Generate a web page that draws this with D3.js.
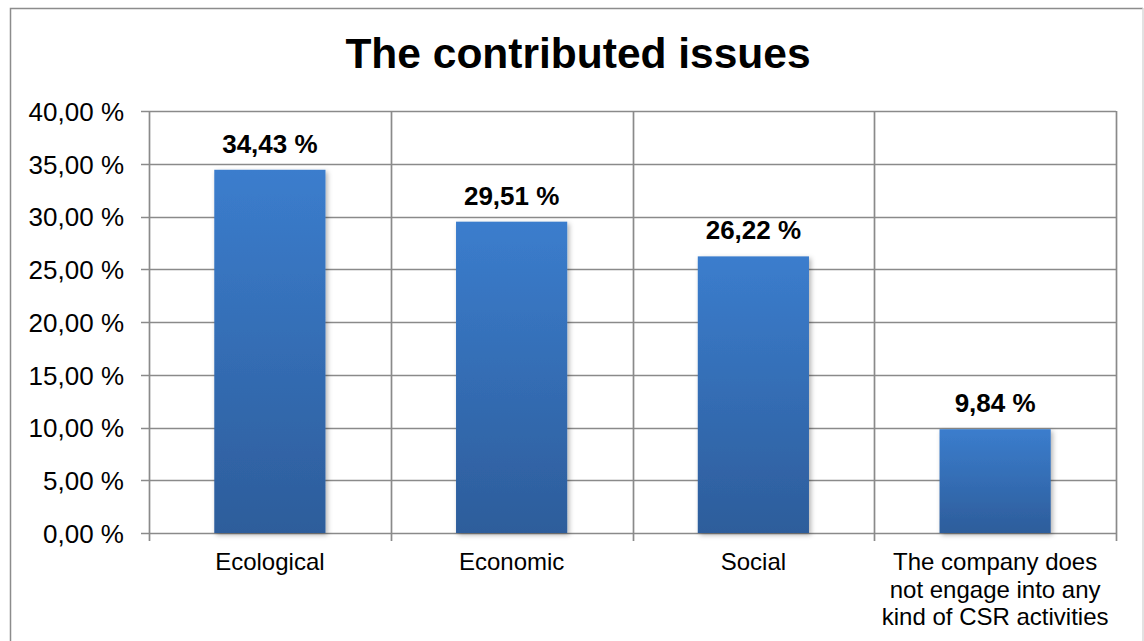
<!DOCTYPE html>
<html>
<head>
<meta charset="utf-8">
<script src="https://cdn.jsdelivr.net/npm/d3@7"></script>
<style>
  html, body { margin: 0; padding: 0; background: #fff; }
  svg { display: block; }
  text { font-family: "Liberation Sans", Arial, sans-serif; fill: #000; }
</style>
</head>
<body>
<svg id="chart" width="1144" height="641"></svg>
<script>
const title = "The contributed issues";
const categories = [
  "Ecological",
  "Economic",
  "Social",
  "The company does not engage into any kind of CSR activities"
];
const categoryLines = [
  ["Ecological"],
  ["Economic"],
  ["Social"],
  ["The company does", "not engage into any", "kind of CSR activities"]
];
const values = [34.43, 29.51, 26.22, 9.84];
const yTicks = [0, 5, 10, 15, 20, 25, 30, 35, 40];

const W = 1144, H = 641;
const margin = { left: 149, right: 28, top: 111, bottom: 108 };
const svg = d3.select("#chart");

const fmt = v => v.toFixed(2).replace(".", ",") + " %";

// defs: gradient + shadow
const defs = svg.append("defs");
const grad = defs.append("linearGradient").attr("id", "barGrad")
  .attr("x1", 0).attr("y1", 0).attr("x2", 0).attr("y2", 1);
grad.append("stop").attr("offset", "0%").attr("stop-color", "#3b7dcd");
grad.append("stop").attr("offset", "100%").attr("stop-color", "#2d5d9b");
const filt = defs.append("filter").attr("id", "shadow")
  .attr("x", "-10%").attr("y", "-10%").attr("width", "130%").attr("height", "130%");
filt.append("feDropShadow").attr("dx", 2).attr("dy", 2).attr("stdDeviation", 2.5)
  .attr("flood-color", "#000").attr("flood-opacity", 0.3);

// outer border
svg.append("path")
  .attr("d", `M10.5,${H} V8.5 H1143`)
  .attr("fill", "none").attr("stroke", "#8c8c8c").attr("stroke-width", 1.5);
svg.append("line").attr("x1", 1143).attr("x2", 1143).attr("y1", 8).attr("y2", H)
  .attr("stroke", "#d9d9d9").attr("stroke-width", 1.5);

const x = d3.scaleBand().domain(categories)
  .range([margin.left, W - margin.right]).paddingInner(0.54).paddingOuter(0.27);
const xOuter = d3.scaleBand().domain(categories)
  .range([margin.left, W - margin.right]).padding(0);
const y = d3.scaleLinear().domain([0, 40]).range([H - margin.bottom, margin.top]);

const grid = "#8a8a8a";
// horizontal gridlines
svg.append("g").selectAll("line").data(yTicks).join("line")
  .attr("x1", margin.left - 8).attr("x2", W - margin.right)
  .attr("y1", d => Math.round(y(d)) + 0.5).attr("y2", d => Math.round(y(d)) + 0.5)
  .attr("stroke", grid).attr("stroke-width", 1.7);
// vertical gridlines at band boundaries
const bounds = categories.map(c => xOuter(c)).concat([W - margin.right]);
svg.append("g").selectAll("line").data(bounds).join("line")
  .attr("x1", d => Math.round(d) + 0.5).attr("x2", d => Math.round(d) + 0.5)
  .attr("y1", margin.top).attr("y2", H - margin.bottom + 8)
  .attr("stroke", grid).attr("stroke-width", 1.7);

// y axis labels
const yAxis = d3.axisLeft(y).tickValues(yTicks).tickFormat(fmt).tickSize(0).tickPadding(25);
const yg = svg.append("g").attr("transform", `translate(${margin.left},0)`).call(yAxis);
yg.select(".domain").remove();
yg.selectAll("text").style("font-size", "26px").style("font-family", "'Liberation Sans', Arial, sans-serif")
  .attr("fill", "#000").attr("dy", "0.36em");

// bars
svg.append("g").selectAll("rect").data(values).join("rect")
  .attr("x", (d, i) => x(categories[i]))
  .attr("width", x.bandwidth())
  .attr("y", d => y(d))
  .attr("height", d => y(0) - y(d))
  .attr("fill", "url(#barGrad)")
  .attr("filter", "url(#shadow)");

// data labels
svg.append("g").selectAll("text").data(values).join("text")
  .attr("x", (d, i) => x(categories[i]) + x.bandwidth() / 2)
  .attr("y", d => y(d) - 17)
  .attr("text-anchor", "middle")
  .style("font-size", "26px").style("font-weight", "bold")
  .text(d => fmt(d));

// category labels
const cg = svg.append("g").selectAll("text").data(categoryLines).join("text")
  .attr("text-anchor", "middle")
  .style("font-size", "24px");
cg.each(function(lines, i) {
  const cx = xOuter(categories[i]) + xOuter.bandwidth() / 2;
  d3.select(this).selectAll("tspan").data(lines).join("tspan")
    .attr("x", cx)
    .attr("y", (l, j) => 570 + j * 27.5)
    .text(l => l);
});

// title
svg.append("text").attr("x", 578).attr("y", 68).attr("text-anchor", "middle")
  .style("font-size", "42.5px").style("font-weight", "bold").text(title);
</script>
</body>
</html>
